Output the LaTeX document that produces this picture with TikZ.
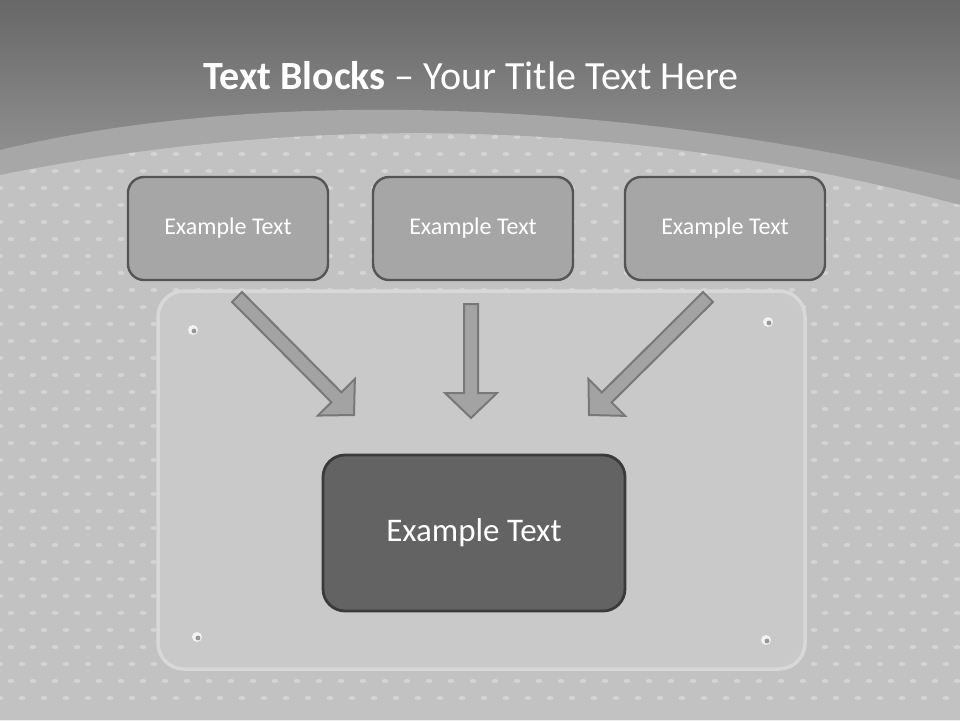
\documentclass[tikz,border=0pt]{standalone}
\usepackage{fontspec}
\setmainfont{Carlito}
\usetikzlibrary{positioning, calc}
\definecolor{tbtop}{HTML}{676767}
\definecolor{tbmid}{HTML}{939393}
\definecolor{tbband}{HTML}{A7A7A7}
\definecolor{tbfloor}{HTML}{C2C2C2}
\definecolor{tbpanel}{HTML}{C9C9C9}
\definecolor{tbrim}{HTML}{D8D8D8}
\definecolor{tbbox}{HTML}{A6A6A6}
\definecolor{tbboxline}{HTML}{555555}
\definecolor{tbdark}{HTML}{636363}
\definecolor{tbdarkline}{HTML}{3A3A3A}
\definecolor{tbarrow}{HTML}{A3A3A3}
\definecolor{tbarrowline}{HTML}{787878}
\newcommand{\tbscrew}[2]{%
  \fill[white!90!gray] (#1,#2) circle[radius=5];
  \fill[tbpanel!75!black] (#1+1,#2+1) circle[radius=2.4];}

\begin{document}
\begin{tikzpicture}[
    x=1pt, y=-1pt,
    % ---- shared styles ---------------------------------------------------
    title/.style={text=white, font=\fontsize{40}{46}\selectfont},
    block/.style={draw=tbboxline, fill=tbbox, line width=2.4pt,
                  rounded corners=16pt, minimum width=200pt, minimum height=103pt,
                  text=white, font=\fontsize{24}{29}\selectfont},
    hub/.style={draw=tbdarkline, fill=tbdark, line width=2.8pt,
                rounded corners=22pt, minimum width=302pt, minimum height=156pt,
                text=white, font=\fontsize{33}{39}\selectfont},
    flowbox/.style={draw=tbarrowline, fill=tbarrow, line width=2pt, line join=miter},
    blockarrow/.style={to path={
      let \p1=($(\tikztotarget)-(\tikztostart)$),
          \n1={atan2(\y1,\x1)}, \n2={veclen(\x1,\y1)-25pt} in
      ($(\tikztostart)+(\n1+90:7pt)$)
      -- ($(\tikztostart)+(\n1:\n2)+(\n1+90:7pt)$)
      -- ($(\tikztostart)+(\n1:\n2)+(\n1+90:26pt)$)
      -- (\tikztotarget)
      -- ($(\tikztostart)+(\n1:\n2)+(\n1-90:26pt)$)
      -- ($(\tikztostart)+(\n1:\n2)+(\n1-90:7pt)$)
      -- ($(\tikztostart)+(\n1-90:7pt)$) -- cycle}},
  ]
\useasboundingbox (0,0) rectangle (960,720);

% =========================================================================
% BACKDROP -- dark sky, curved band, dotted floor, panel
% =========================================================================
\fill[tbmid] (0,0) rectangle (960,720);
\shade[top color=tbtop, bottom color=tbmid] (0,0) rectangle (960,170);
\fill[tbband] (0,150) .. controls (250,90) and (600,95) .. (960,180)
  -- (960,720) -- (0,720) -- cycle;
\fill[tbfloor] (0,175) .. controls (300,115) and (620,115) .. (960,205)
  -- (960,720) -- (0,720) -- cycle;
\begin{scope}
  \clip (0,175) .. controls (300,115) and (620,115) .. (960,205)
    -- (960,720) -- (0,720) -- cycle;
  \foreach \r in {0,...,34}{
    \foreach \c in {0,...,44}{
      \fill[white, opacity=0.3]
        ({\c*22+mod(\r,2)*11},{120+\r*17}) circle[x radius=3.4, y radius=2];}}
\end{scope}
\draw[tbrim, fill=tbpanel, line width=3.5pt, rounded corners=26pt]
  (158,291) rectangle (805,669);
\tbscrew{193}{330}
\tbscrew{768}{322}
\tbscrew{197}{637}
\tbscrew{766}{640}

% =========================================================================
% TITLE
% =========================================================================
\node[title] (ttl) at (471,76) {\textbf{Text Blocks} – Your Title Text Here};

% =========================================================================
% BLOCKS -- three feeders and the hub
% =========================================================================
\node[block] (b1) at (228,228.5) {Example Text};
\node[block] (b2) at (473,228.5) {Example Text};
\node[block] (b3) at (725,228.5) {Example Text};
\node[hub]   (hb) at (474,533)   {Example Text};

% arrow feet just under the feeders, tips just above the hub
\coordinate (s1) at (237,297);
\coordinate (s2) at (471,304);
\coordinate (s3) at (708,297);
\coordinate (t1) at (354,415);
\coordinate (t2) at (471,418);
\coordinate (t3) at (589,415);

\draw[flowbox] (s1) to[blockarrow] (t1);
\draw[flowbox] (s2) to[blockarrow] (t2);
\draw[flowbox] (s3) to[blockarrow] (t3);

\end{tikzpicture}
\end{document}
